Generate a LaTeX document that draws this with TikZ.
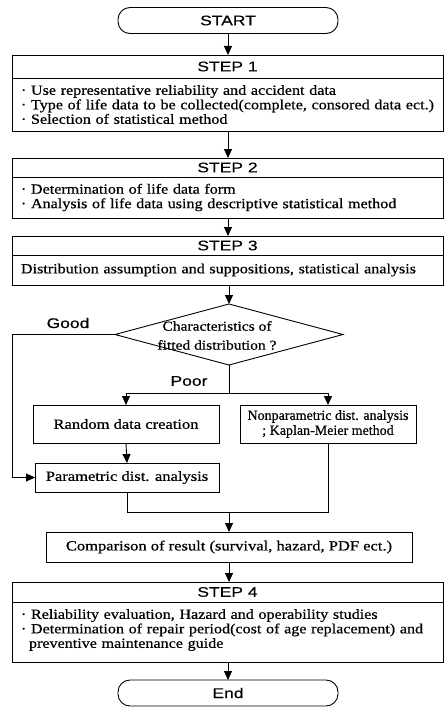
\documentclass[tikz,border=0pt]{standalone}
\usepackage{fontspec}
\setmainfont{Liberation Serif}[FakeStretch=1.15,FakeBold=0.6]
\newfontfamily\boxfont{Liberation Serif}[FakeStretch=1.18,FakeBold=0.6]
\newfontfamily\hdfont{Liberation Sans}[FakeStretch=1.25,FakeBold=0.4]
\newfontfamily\cndfont{Liberation Serif}[FakeBold=0.6]
\usetikzlibrary{arrows.meta,shapes.geometric}
\begin{document}
\begin{tikzpicture}[x=1pt,y=-1pt, line width=0.9pt,
  every node/.style={inner sep=0pt, outer sep=0pt},
  arr/.style={-{Triangle[length=9pt,width=8pt]}},
  term/.style={draw, rounded corners=12pt, minimum width=220pt, minimum height=26pt, font=\hdfont\fontsize{14}{16}\selectfont},
  hdr/.style={draw, minimum width=431pt, font=\hdfont\fontsize{14}{16}\selectfont},
  bod/.style={draw, minimum width=431pt, text width=413pt, align=left, font=\fontsize{14}{14.5}\selectfont},
  pbox/.style={draw, font=\boxfont\fontsize{14}{15}\selectfont, align=center},
  lbl/.style={font=\hdfont\fontsize{14}{16}\selectfont}
]
\useasboundingbox (0,0) rectangle (444,709);

\node[term] (start) at (228,20.5) {START};

\node[hdr, minimum height=23pt] (s1h) at (227.5,66.5) {STEP 1};
\node[bod, minimum height=53pt] (s1b) at (227.5,104.5) {· Use representative reliability and accident data\\
· Type of life data to be collected(complete, consored data ect.)\\
· Selection of statistical method};

\node[hdr, minimum height=19pt] (s2h) at (227.5,167.5) {STEP 2};
\node[bod, minimum height=41pt] (s2b) at (227.5,197.5) {· Determination of life data form\\
· Analysis of life data using descriptive statistical method};

\node[hdr, minimum height=19pt] (s3h) at (227.5,245.5) {STEP 3};
\node[bod, minimum height=30pt] (s3b) at (227.5,270) {Distribution assumption and suppositions, statistical analysis};

\node[draw, diamond, minimum width=228pt, minimum height=61pt] (dia) at (229,334.5) {};
\node[font=\fontsize{13.5}{19}\selectfont, align=center] (dtx) at (217,335.5) {Characteristics of\\fitted distribution ?};

\node[lbl] (good) at (68,323) {Good};
\node[lbl] (poor) at (189,381) {Poor};

\node[pbox, minimum width=186pt, minimum height=38pt] (rnd) at (126,424) {Random data creation};
\node[pbox, minimum width=176pt, minimum height=38pt, font=\cndfont\fontsize{14}{15}\selectfont] (npa) at (328,424) {Nonparametric dist. analysis\\; Kaplan-Meier method};
\node[pbox, minimum width=184pt, minimum height=29pt] (par) at (127,477.5) {Parametric dist. analysis};

\node[pbox, minimum width=366pt, minimum height=30pt] (cmp) at (229,547) {Comparison of result (survival, hazard, PDF ect.)};

\node[hdr, minimum height=20pt] (s4h) at (227.5,592) {STEP 4};
\node[bod, minimum height=60pt] (s4b) at (227.5,632) {· Reliability evaluation, Hazard and operability studies\\
· Determination of repair period(cost of age replacement) and\\
\hspace*{8pt}preventive maintenance guide\vspace*{4pt}};

\node[term] (end) at (228,693) {End};

\coordinate (br) at (229,393);
\coordinate (mg) at (229,512);

\draw[arr] (start.south) -- (start.south |- s1h.north);
\draw[arr] (s1b.south -| start.south) -- (start.south |- s2h.north);
\draw[arr] (s2b.south -| start.south) -- (start.south |- s3h.north);
\draw[arr] (s3b.south -| dia.north) -- (dia.north);
\draw[arr] (dia.west) -- ++(-103,0) |- (par.west);
\draw (dia.south) -- (br);
\draw[arr] (br) -| (rnd.north);
\draw[arr] (br) -| (npa.north);
\draw[arr] (rnd.south) -- (par.north);
\draw (par.south) |- (mg);
\draw (npa.south) |- (mg);
\draw[arr] (mg) -- (cmp.north);
\draw[arr] (cmp.south) -- (cmp.south |- s4h.north);
\draw[arr] (s4b.south -| end.north) -- (end.north);
\end{tikzpicture}
\end{document}
